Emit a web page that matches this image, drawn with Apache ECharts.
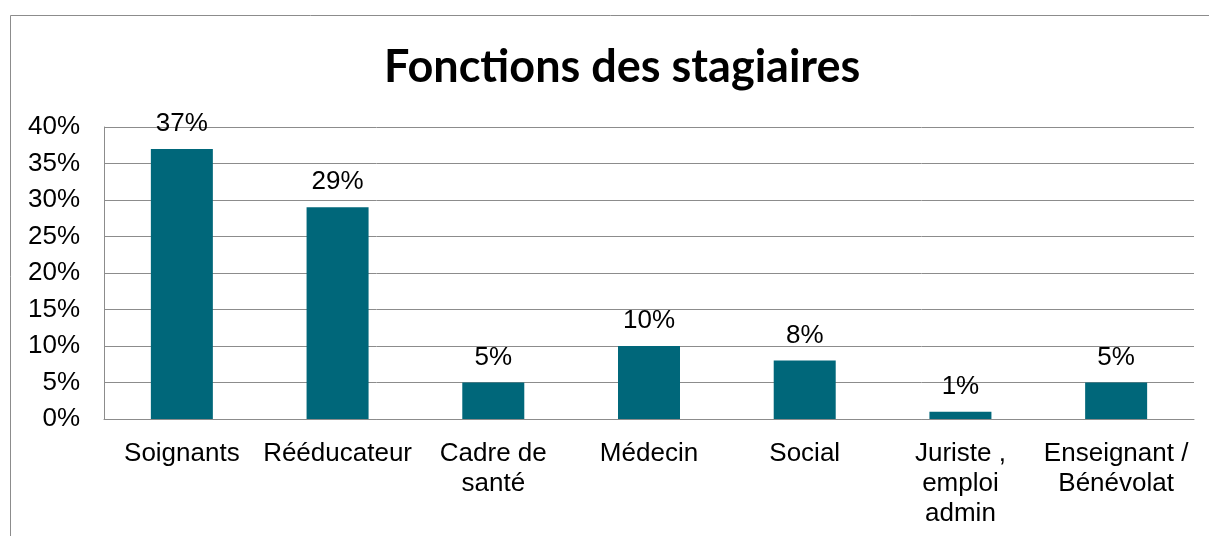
<!DOCTYPE html>
<html lang="fr">
<head>
  <meta charset="UTF-8">
  <title>Fonctions des stagiaires</title>
  <style>
    html, body { margin: 0; padding: 0; background: #fff; }
    #chart { width: 1209px; height: 536px; }
  </style>
</head>
<body>
  <div id="chart"></div>
  <script src="https://cdn.jsdelivr.net/npm/echarts@6/dist/echarts.min.js"></script>
  <script>
    var categories = ['Soignants', 'Rééducateur', 'Cadre de\nsanté', 'Médecin', 'Social', 'Juriste ,\nemploi\nadmin', 'Enseignant /\nBénévolat']
    var values = [37, 29, 5, 10, 8, 1, 5]
    var yTicks = [0, 5, 10, 15, 20, 25, 30, 35, 40]

    var myChart = echarts.init(document.getElementById('chart'))
    var option = {
      animation: false,
      title: {
        text: 'Fonctions des stagiaires',
        left: 379,
        top: 40,
        textStyle: {
          fontFamily: 'Lato',
          fontWeight: 'bold',
          fontSize: 45,
          color: '#000'
        }
      },
      graphic: [{
        type: 'rect',
        shape: { x: 10.5, y: 15.5, width: 1220, height: 560 },
        style: { fill: 'none', stroke: '#8c8c8c', lineWidth: 1 },
        silent: true
      }],
      grid: { left: 104, right: 15, top: 127, bottom: 117 },
      xAxis: {
        type: 'category',
        data: categories,
        axisLine: { lineStyle: { color: '#8c8c8c' } },
        axisTick: { show: false },
        axisLabel: {
          interval: 0,
          margin: 20,
          fontFamily: 'Liberation Sans',
          fontSize: 26,
          lineHeight: 30,
          color: '#000'
        }
      },
      yAxis: {
        type: 'value',
        min: yTicks[0],
        max: yTicks[yTicks.length - 1],
        interval: 5,
        axisLine: { show: true, lineStyle: { color: '#8c8c8c' } },
        axisTick: { show: false },
        splitLine: { lineStyle: { color: '#8c8c8c' } },
        axisLabel: {
          margin: 24,
          fontFamily: 'Liberation Sans',
          fontSize: 26,
          color: '#000',
          formatter: '{value}%'
        }
      },
      series: [{
        type: 'bar',
        data: values,
        barWidth: 62,
        itemStyle: { color: '#00677a' },
        label: {
          show: true,
          position: 'top',
          distance: 12,
          fontFamily: 'Liberation Sans',
          fontSize: 26,
          color: '#000',
          formatter: '{c}%'
        }
      }]
    }
    myChart.setOption(option)
  </script>
</body>
</html>
